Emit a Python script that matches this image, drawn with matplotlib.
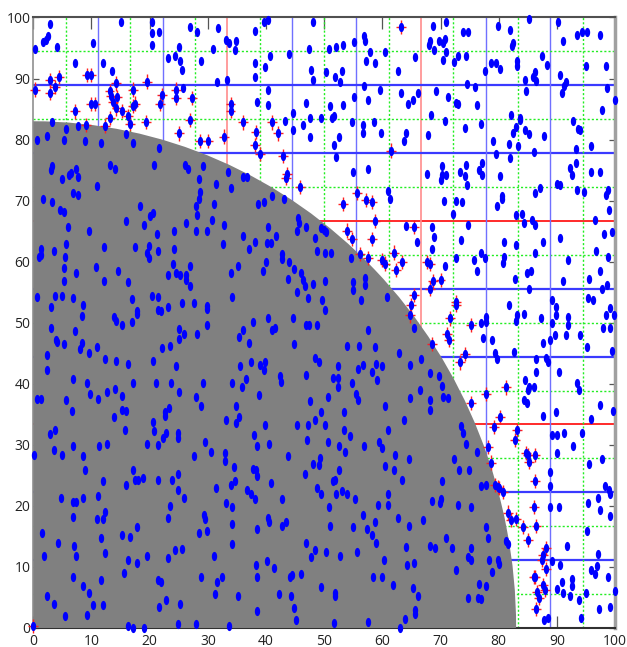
import numpy as np
import matplotlib
matplotlib.use('Agg')
from matplotlib import pyplot as plt
from matplotlib.path import Path
from matplotlib.patches import Wedge

plt.rcParams['font.family'] = ['Open Sans', 'DejaVu Sans']

# disc radius (grey quarter circle) and number of grid divisions
radius = 83
n_div = 18
tick_values = list(range(0, 101, 10))

# points drawn as plain blue dots
blue_pts = [
    # top left
    (0.3, 94.8), (1.7, 95.9), (2.2, 96.3), (2.6, 97.0), (2.9, 98.9), (4.0, 95.2), (7.2, 92.5), (10.3, 95.8),
    (15.0, 99.2), (11.9, 92.5), (13.5, 91.3), (3.2, 82.8), (20.4, 97.5), (20.4, 99.2), (20.4, 95.5), (21.6, 97.7),
    (23.1, 93.3), (24.4, 93.7), (25.2, 92.8), (25.5, 91.4), (25.1, 95.2), (25.7, 88.4), (27.0, 98.5), (28.2, 97.7),
    (28.8, 92.8),
    (0.7, 80.0), (2.3, 80.6), (5.6, 81.7), (5.3, 79.9), (7.6, 82.2), (8.9, 79.7), (11.6, 79.4), (15.9, 80.9),
    (17.2, 79.4), (20.8, 75.8), (21.6, 78.6), (26.1, 75.8), (26.6, 75.2), (29.2, 75.6), (28.5, 73.5), (3.3, 75.6),
    (3.1, 75.0), (4.9, 73.5), (6.1, 74.2), (6.5, 74.6), (7.7, 73.9), (7.3, 75.1), (13.2, 75.8), (14.0, 75.1),
    (10.9, 72.4), (6.9, 71.2), (7.7, 71.0), (1.6, 70.2), (3.2, 69.7), (4.6, 68.5), (18.3, 69.1), (28.6, 71.4),
    (28.5, 70.2), (27.9, 69.1),
    # middle left
    (5.3, 68.2), (6.0, 65.7), (9.5, 65.1), (16.0, 66.6), (19.0, 66.0), (20.0, 67.4), (20.6, 67.9), (21.3, 64.5),
    (24.2, 65.1), (26.2, 66.4), (28.1, 67.7), (27.9, 65.1), (29.8, 65.1), (1.4, 62.0), (0.9, 60.8), (1.3, 61.1),
    (3.6, 61.8), (5.7, 62.9), (5.4, 60.8), (5.3, 59.0), (5.3, 56.9), (7.3, 58.2), (10.7, 59.2), (12.1, 62.4),
    (12.1, 56.9), (14.6, 58.4), (16.3, 56.6), (17.4, 62.4), (19.5, 61.5), (19.9, 60.6), (19.9, 62.5), (21.5, 61.8),
    (24.2, 62.0), (24.1, 59.7), (23.1, 57.8), (24.6, 58.2), (25.2, 57.8), (26.2, 57.8), (26.2, 57.0), (27.0, 59.3),
    (27.0, 56.0), (0.6, 54.2), (3.0, 52.6), (3.8, 54.4), (5.0, 54.4), (6.8, 54.1), (8.6, 52.9), (8.4, 51.1),
    (3.0, 49.2), (7.2, 48.6), (3.9, 47.2), (4.1, 46.8), (5.2, 46.5), (2.4, 44.7), (2.4, 42.3), (8.0, 45.7),
    (8.3, 46.6), (9.6, 45.0), (10.9, 46.0), (12.4, 44.0), (14.2, 43.8), (16.2, 43.2), (13.9, 51.0), (14.3, 50.3),
    (15.2, 49.6), (16.9, 50.2), (16.9, 53.9), (17.8, 51.4), (17.9, 51.9), (20.4, 54.4), (21.4, 54.2), (21.5, 52.1),
    (22.0, 52.0), (23.2, 52.6), (25.6, 53.3), (27.7, 53.3), (29.9, 52.8), (29.8, 52.2), (29.9, 49.6), (25.0, 48.9),
    (25.9, 48.1), (25.0, 47.4), (28.2, 48.1), (23.5, 46.2), (22.1, 45.9), (20.5, 43.8), (24.5, 42.9), (6.9, 40.8),
    (9.3, 40.2), (9.7, 38.4), (11.2, 37.5), (12.6, 38.7), (14.1, 39.1), (15.2, 38.0), (17.2, 40.2), (21.1, 40.2),
    (23.6, 40.2), (25.0, 38.7), (29.1, 40.2), (27.9, 37.8), (28.8, 36.3), (0.7, 37.5), (1.4, 37.5), (5.6, 37.4),
    (6.6, 35.6), (13.9, 34.6), (15.3, 35.7), (15.9, 35.6), (20.6, 33.8), (22.7, 35.4), (23.4, 36.0), (22.6, 34.7),
    # bottom left
    (20.8, 32.2), (2.8, 31.8), (3.7, 32.5), (3.6, 29.2), (5.0, 28.3), (0.2, 28.3), (6.9, 29.8), (8.5, 28.1),
    (8.9, 25.9), (11.3, 29.8), (12.7, 30.1), (15.8, 32.5), (19.6, 30.1), (21.4, 29.9), (22.3, 31.1), (22.8, 32.0),
    (24.9, 32.0), (24.8, 31.1), (27.6, 28.1), (29.5, 30.4), (4.8, 21.3), (6.9, 20.7), (7.4, 20.7), (8.5, 21.3),
    (6.9, 18.2), (11.9, 24.1), (16.0, 23.5), (17.1, 25.9), (17.5, 24.3), (18.0, 24.3), (18.8, 24.6), (21.5, 24.3),
    (23.9, 24.3), (24.9, 25.3), (24.9, 22.6), (25.9, 21.3), (11.1, 21.6), (10.9, 17.9), (12.0, 17.9), (12.4, 19.0),
    (15.3, 15.2), (16.7, 14.9), (17.9, 16.5), (23.1, 18.0), (23.5, 20.0), (28.5, 15.5), (29.3, 18.5), (29.6, 17.9),
    (29.9, 15.9), (1.5, 15.6), (1.8, 11.8), (4.2, 14.0), (7.0, 13.4), (7.4, 11.8), (11.7, 14.7), (12.4, 12.2),
    (16.3, 11.2), (17.9, 10.7), (19.6, 11.8), (23.1, 11.4), (24.3, 12.8), (25.5, 13.0), (15.6, 9.0), (6.9, 8.4),
    (8.6, 6.8), (9.6, 5.8), (11.6, 7.9), (10.3, 3.8), (12.0, 3.8), (9.3, 2.1), (5.4, 1.9), (2.3, 5.2),
    (3.6, 4.0), (21.5, 7.9), (21.9, 7.5), (22.8, 4.6), (21.6, 3.4), (25.2, 4.0), (28.8, 8.3), (16.3, 0.3),
    (17.1, 0.0), (19.1, 0.0), (24.8, 0.7), (27.9, 0.7),
    # bottom centre
    (39.8, 33.3), (45.3, 33.3), (47.3, 33.3), (50.2, 33.3), (53.4, 32.5), (54.4, 31.4), (56.8, 29.8), (59.5, 30.4),
    (59.9, 29.4), (60.9, 32.5), (30.5, 28.9), (38.0, 31.6), (38.4, 29.8), (40.5, 30.1), (33.0, 28.6), (33.0, 27.4),
    (34.5, 26.4), (34.6, 24.1), (37.8, 26.1), (38.3, 25.8), (38.5, 24.9), (40.8, 23.7), (43.8, 28.1), (47.0, 30.8),
    (48.1, 26.8), (49.1, 26.7), (49.3, 27.8), (50.7, 30.4), (52.5, 29.8), (53.6, 28.9), (46.7, 25.3), (52.5, 25.9),
    (51.6, 24.0), (51.8, 24.3), (48.8, 22.9), (49.4, 21.9), (52.1, 21.9), (53.1, 22.5), (54.0, 21.9), (55.3, 21.2),
    (60.4, 26.5), (62.0, 25.9), (62.1, 28.3), (63.3, 24.3), (64.5, 27.7), (31.4, 22.9), (34.0, 23.4), (36.7, 22.6),
    (37.4, 21.9), (38.1, 21.2), (42.7, 21.2), (33.1, 20.4), (34.1, 19.8), (34.1, 17.0), (34.2, 13.8), (31.0, 11.8),
    (38.5, 16.2), (40.4, 18.0), (40.5, 17.3), (42.8, 16.7), (43.5, 17.4), (50.8, 19.8), (51.0, 16.7), (54.9, 16.5),
    (56.6, 18.5), (57.4, 16.2), (58.3, 15.2), (58.7, 17.3), (58.9, 14.0), (59.3, 20.1), (61.0, 20.1), (60.9, 21.9),
    (62.7, 18.0), (64.5, 16.7), (46.9, 14.0), (48.4, 12.8), (47.7, 11.6), (50.4, 12.5), (52.8, 11.8), (55.6, 12.4),
    (60.3, 11.2), (64.1, 13.2), (64.3, 10.3), (38.2, 10.3), (40.1, 10.9), (41.4, 9.8), (38.5, 8.3), (44.1, 8.3),
    (44.5, 8.7), (46.1, 8.8), (31.6, 7.6), (32.5, 8.3), (31.2, 5.6), (35.2, 5.2), (42.2, 5.6), (44.3, 5.2),
    (44.9, 3.2), (45.1, 1.3), (38.5, 2.8), (33.7, 0.3), (49.5, 6.7), (51.9, 5.8), (51.9, 5.2), (51.7, 0.8),
    (57.6, 1.0), (58.4, 8.3), (60.0, 8.3), (61.9, 7.0), (63.9, 1.4), (63.0, 0.0),
    # bottom right
    (73.5, 33.1), (73.9, 31.9), (74.3, 30.1), (76.2, 28.9), (72.4, 27.6), (73.1, 25.9), (74.9, 25.9), (70.2, 24.1),
    (76.9, 23.2), (77.9, 23.4), (68.6, 20.8), (70.0, 21.2), (69.9, 20.4), (73.0, 20.1), (75.2, 19.8), (67.0, 17.7),
    (77.9, 16.5), (78.2, 14.7), (71.0, 14.7), (68.2, 13.4), (69.0, 13.1), (71.9, 13.1), (75.3, 13.1), (74.7, 11.7),
    (75.3, 11.2), (78.4, 11.2), (79.8, 11.2), (80.1, 10.5), (78.9, 9.2), (72.7, 9.5), (65.4, 10.6), (65.3, 6.5),
    (66.1, 5.2), (65.6, 2.9), (65.6, 2.3), (76.7, 7.2), (77.9, 6.8), (76.5, 4.9), (76.9, 4.7), (74.7, 4.9),
    (81.6, 13.8), (81.3, 14.2),
    (89.1, 31.6), (90.1, 31.6), (91.2, 31.9), (94.3, 31.9), (92.7, 29.8), (90.0, 28.6), (97.8, 27.6), (95.5, 26.8),
    (88.9, 25.6), (88.9, 23.2), (88.9, 19.8), (90.4, 19.8), (95.4, 20.4), (97.1, 21.3), (97.5, 19.4), (98.2, 23.2),
    (98.9, 22.6), (99.2, 21.9), (99.1, 18.3), (95.2, 15.9), (91.7, 13.4), (97.1, 12.1), (89.1, 10.9), (90.5, 10.3),
    (90.0, 6.4), (91.1, 5.8), (90.8, 7.6), (92.6, 8.0), (92.6, 6.9), (92.3, 5.2), (93.8, 4.6), (95.0, 5.7),
    (95.9, 9.5), (96.5, 8.9), (96.9, 10.1), (98.8, 8.3), (100.0, 6.1), (97.3, 3.1), (99.1, 3.4), (94.2, 1.6),
    (87.8, 1.3), (88.5, 1.6),
    # middle right
    (72.2, 67.8), (74.7, 66.0), (68.6, 65.7), (68.9, 64.0), (65.9, 63.3), (68.6, 62.0), (73.6, 63.6), (82.9, 67.7),
    (84.0, 67.8), (84.3, 66.3), (85.7, 66.9), (86.3, 66.0), (96.5, 66.8), (98.9, 68.4), (98.1, 64.5), (99.5, 64.9),
    (80.9, 63.3), (83.0, 62.7), (87.6, 63.3), (90.6, 63.8), (76.9, 61.5), (77.6, 60.6), (75.7, 60.2), (72.6, 60.6),
    (70.7, 59.3), (76.2, 58.4), (81.0, 60.8), (80.8, 59.8), (86.2, 61.5), (92.0, 60.2), (96.8, 61.8), (98.8, 60.7),
    (84.9, 58.2), (85.6, 58.4), (82.8, 57.2), (85.2, 55.6), (91.1, 56.9), (95.6, 57.2), (97.5, 58.4), (97.7, 55.6),
    (98.6, 56.2), (65.4, 49.1), (77.8, 51.0), (77.8, 50.2), (76.9, 50.0), (77.3, 47.5), (78.9, 47.2), (79.3, 45.1),
    (79.7, 44.0), (81.7, 52.9), (83.1, 51.3), (82.9, 50.3), (84.3, 51.4), (87.3, 50.7), (89.1, 53.8), (89.9, 52.5),
    (89.8, 51.3), (89.1, 49.9), (89.6, 48.0), (91.5, 48.0), (91.9, 50.9), (92.0, 49.6), (93.9, 48.0), (95.4, 54.1),
    (96.2, 53.8), (99.1, 52.4), (99.8, 51.3), (98.4, 51.2), (98.0, 49.2), (99.1, 49.1), (95.1, 46.1), (99.4, 45.3),
    (87.7, 46.7), (88.8, 47.2), (82.6, 45.2), (86.4, 44.1), (88.2, 44.2), (88.5, 43.6), (90.4, 42.0), (93.5, 40.1),
    (93.8, 38.9), (84.6, 40.7), (85.2, 39.4), (85.0, 38.9), (86.1, 39.5), (86.5, 42.0), (84.3, 37.3), (84.8, 36.9),
    (87.7, 34.7), (89.9, 35.3), (95.8, 34.2), (97.4, 36.5), (99.7, 35.6),
    (66.7, 44.0), (68.2, 41.7), (69.8, 41.2), (70.2, 39.6), (70.5, 37.9), (71.3, 37.6), (66.4, 39.0), (68.2, 37.4),
    (68.2, 35.7),
    # centre
    (30.8, 66.9), (32.8, 66.0), (36.1, 64.2), (38.1, 63.3), (37.1, 62.0), (40.4, 65.7), (40.1, 63.0), (40.8, 63.0),
    (41.8, 64.2), (32.6, 62.9), (42.7, 61.3), (42.7, 60.4), (40.0, 60.0), (39.5, 58.4), (35.2, 59.3), (33.9, 58.2),
    (44.0, 60.0), (44.9, 58.8), (43.7, 57.2), (45.5, 67.1), (45.6, 66.4), (45.3, 65.1), (46.8, 65.7), (46.0, 58.2),
    (46.4, 57.0), (46.7, 56.0), (48.0, 56.3), (47.3, 54.1), (45.3, 55.1), (48.5, 63.8), (48.8, 61.8), (49.5, 65.5),
    (49.9, 65.2), (50.3, 64.9), (50.1, 61.5), (51.1, 61.5), (50.1, 56.8), (49.7, 53.7), (50.1, 52.1), (34.2, 54.2),
    (40.4, 50.7), (37.7, 50.2), (36.0, 48.8), (35.3, 47.7), (37.1, 46.7), (41.1, 48.8), (41.5, 49.1), (44.7, 50.7),
    (46.8, 49.6), (47.4, 49.6), (48.8, 49.6), (44.8, 46.5), (48.4, 44.2), (49.1, 43.6), (37.5, 43.6), (35.6, 42.9),
    (38.9, 43.1), (39.6, 42.3), (39.9, 43.6), (42.4, 41.2), (42.6, 40.3), (34.1, 40.2), (36.5, 40.8), (35.8, 39.5),
    (38.8, 38.2), (46.9, 41.4), (47.6, 37.1), (49.4, 35.4), (34.8, 36.3), (35.4, 34.6), (33.1, 34.1), (34.8, 33.6),
    (48.5, 34.1), (52.3, 42.9), (51.6, 40.9), (52.3, 40.9), (52.4, 39.5), (50.7, 37.9), (53.4, 35.3), (54.8, 40.2),
    (55.8, 42.5), (56.7, 43.0), (58.3, 42.0), (58.9, 43.2), (59.9, 42.9), (59.1, 40.6), (53.9, 46.2), (56.0, 46.2),
    (58.8, 46.0), (62.9, 45.0), (57.6, 48.8), (56.4, 53.8), (54.9, 56.7), (54.9, 55.4), (57.1, 57.4), (57.1, 56.2),
    (60.8, 54.2), (54.6, 60.6), (64.8, 43.1), (64.7, 37.6), (60.4, 36.3), (63.8, 34.1), (55.8, 37.3), (55.5, 38.4),
    (64.1, 65.8),
    # top centre
    (31.8, 98.2), (33.2, 96.3), (33.7, 95.8), (34.7, 94.7), (34.9, 96.2), (30.9, 94.8), (38.1, 97.8), (39.7, 99.3),
    (40.3, 99.6), (40.7, 93.7), (39.9, 91.9), (38.1, 92.6), (38.1, 90.3), (43.9, 94.0), (48.0, 99.2), (47.4, 94.8),
    (31.5, 89.5), (33.3, 89.7), (38.4, 86.2), (40.4, 88.2), (40.3, 85.6), (43.2, 83.0), (44.7, 84.3), (44.7, 81.6),
    (46.8, 86.0), (46.3, 82.4), (47.5, 83.5), (47.5, 80.4), (47.7, 91.4), (48.0, 89.8), (49.4, 83.5), (51.0, 85.5),
    (50.3, 91.0), (50.8, 94.8), (51.8, 90.3), (52.1, 95.2), (53.2, 95.5), (52.7, 89.5), (53.0, 91.3), (53.3, 85.7),
    (51.4, 83.5), (51.7, 83.8), (52.6, 80.5), (51.7, 79.1), (52.1, 77.2), (55.1, 95.9), (56.9, 96.9), (57.0, 96.2),
    (57.8, 94.4), (57.2, 92.8), (58.7, 92.5), (55.1, 87.0), (56.9, 88.8), (57.5, 86.5), (59.6, 88.2), (60.4, 94.4),
    (62.7, 91.3), (63.2, 87.6), (64.4, 85.8), (65.3, 86.5), (54.7, 82.8), (56.6, 82.4), (56.7, 81.0), (58.5, 82.9),
    (59.7, 81.0), (64.1, 81.0), (63.7, 79.7), (57.5, 75.1), (54.9, 74.7), (60.9, 71.6), (61.3, 70.2),
    (33.4, 74.7), (33.9, 72.0), (36.1, 73.9), (36.7, 73.9), (31.4, 72.8), (31.1, 69.5), (38.7, 69.4), (39.7, 69.8),
    (41.0, 70.8), (43.1, 70.2),
    # top right
    (68.7, 98.6), (70.9, 99.2), (68.2, 96.2), (68.0, 95.5), (68.8, 94.7), (69.7, 96.2), (70.4, 95.8), (70.8, 96.5),
    (71.0, 94.4), (70.4, 93.0), (65.7, 93.6), (73.9, 97.7), (74.8, 97.7), (72.3, 92.7), (73.0, 93.7), (74.3, 93.7),
    (79.9, 98.6), (81.9, 97.9), (82.5, 95.8), (82.3, 95.3), (85.2, 99.7), (90.2, 99.3), (91.1, 96.2), (93.4, 97.1),
    (94.3, 97.7), (95.2, 97.7), (97.5, 97.1), (77.6, 91.3), (78.6, 92.5), (79.5, 92.6), (80.2, 91.5), (83.2, 92.8),
    (83.2, 92.0), (87.5, 93.7), (88.3, 92.2), (86.2, 91.1), (84.5, 89.8), (85.9, 90.2), (86.4, 89.6), (84.7, 88.0),
    (90.5, 90.6), (91.5, 89.5), (91.2, 88.7), (90.8, 87.6), (95.0, 92.0), (98.5, 92.1), (98.6, 88.4), (100.0, 86.5),
    (97.8, 84.9), (74.6, 89.1), (76.0, 88.6), (69.2, 87.9), (66.2, 87.7), (71.3, 86.9), (72.7, 86.0), (73.0, 85.8),
    (76.2, 85.7), (68.4, 84.1), (70.7, 83.0), (67.9, 80.7), (74.2, 81.9), (77.0, 82.6), (82.2, 84.0), (83.6, 83.6),
    (83.6, 83.2), (83.0, 82.1), (82.4, 81.0), (84.5, 81.5), (85.2, 80.9), (87.8, 80.6), (83.3, 78.9), (81.7, 79.3),
    (79.0, 79.7), (79.6, 77.7), (82.0, 76.9), (86.1, 77.9), (92.7, 83.0), (93.7, 81.8), (94.0, 81.5), (95.9, 78.9),
    (93.3, 78.4), (93.3, 76.2), (92.2, 75.3), (92.6, 74.2), (95.9, 74.7), (97.4, 74.7), (90.0, 72.8), (90.5, 72.5),
    (93.4, 71.7), (94.6, 71.4), (98.4, 70.9), (98.8, 71.8), (86.2, 71.2), (87.1, 72.1), (80.2, 74.1), (79.7, 69.1),
    (80.5, 70.7), (80.6, 70.2), (70.6, 70.0), (72.7, 70.0), (73.7, 69.7), (67.7, 74.4), (70.2, 75.6), (70.3, 74.2),
    (70.0, 73.4), (71.0, 74.2), (73.3, 74.7), (74.3, 75.8), (74.2, 74.0), (74.5, 72.5), (76.6, 75.0), (77.2, 76.2),
    (77.2, 74.2),
]

# points that also carry a red cross (near the disc edge)
marked_pts = [
    (0.3, 88.2), (2.9, 89.7), (2.9, 87.6), (3.7, 88.6), (4.4, 90.3), (9.3, 90.6), (9.9, 90.6), (14.2, 89.2),
    (13.1, 88.0), (13.3, 87.1), (14.4, 87.0), (13.7, 86.2), (14.3, 85.1), (15.2, 84.7), (13.2, 83.5), (12.4, 82.2),
    (9.9, 85.8), (10.6, 85.8), (7.2, 84.6), (9.0, 82.4), (16.3, 83.8), (16.6, 82.6), (17.2, 85.5), (17.5, 85.9),
    (17.1, 88.2), (19.6, 89.5), (22.1, 87.3), (21.8, 85.8), (19.4, 82.9), (24.5, 88.2), (24.5, 86.8), (26.9, 83.2),
    (25.1, 81.0), (27.2, 86.8), (28.6, 79.8), (30.1, 79.8),
    (0.0, 0.3),
    (79.2, 32.9), (83.1, 32.4), (82.8, 30.8), (84.7, 28.7), (85.1, 28.3), (86.2, 28.3), (85.2, 27.2), (78.6, 27.1),
    (78.1, 29.6), (86.3, 24.1), (79.3, 23.4), (79.8, 23.1), (80.1, 22.9), (80.8, 22.3), (86.0, 19.8), (81.6, 18.9),
    (82.2, 17.7), (82.9, 17.8), (84.2, 16.5), (86.5, 16.7), (85.1, 14.4), (88.2, 13.1), (87.7, 12.0), (87.5, 11.2),
    (88.1, 9.6), (86.0, 8.3), (86.3, 8.4), (87.6, 7.0), (87.9, 6.2), (86.6, 5.9), (86.9, 4.9), (86.4, 3.1),
    (65.4, 65.7), (67.6, 60.0), (68.2, 59.6), (68.7, 56.8), (70.0, 57.0), (68.2, 55.6), (65.5, 54.5), (64.9, 52.9),
    (64.7, 51.2), (72.7, 53.4), (72.6, 52.9), (71.6, 50.7), (71.1, 48.1), (71.4, 47.2), (68.6, 46.5), (75.3, 49.6),
    (74.2, 44.9), (73.3, 43.5), (81.3, 39.4), (77.8, 38.3), (75.2, 36.9), (80.2, 34.5),
    (58.7, 66.7), (54.0, 65.1), (54.8, 63.7), (58.3, 63.7), (56.2, 61.3), (57.6, 60.6), (60.0, 60.3), (60.4, 59.7),
    (62.0, 61.5), (62.3, 58.6), (63.3, 60.0),
    (33.9, 85.8), (33.9, 84.7), (36.1, 82.8), (38.2, 81.3), (38.1, 79.1), (38.9, 77.6), (41.1, 82.8), (42.0, 81.0),
    (43.0, 77.3), (43.6, 74.4), (43.4, 73.7), (45.8, 72.2), (61.5, 78.2), (55.7, 71.3), (57.2, 70.1), (58.3, 69.8),
    (53.2, 69.4), (63.2, 98.5), (32.8, 80.5),
]

fig = plt.figure(figsize=(6.27, 6.47), dpi=100)
ax = fig.add_axes([0.0531, 0.0294, 0.9278, 0.9436])
ax.set_xlim(0, 100)
ax.set_ylim(0, 100)

# grid of sub-divisions: red every 6th, blue every 2nd, green dotted otherwise
for k in range(1, n_div):
    v = k * 100 / n_div
    if k % 6 == 0:
        ax.axhline(v, color='#ff2a2a', lw=1.4, zorder=1)
        ax.axvline(v, color='#ff8c8c', lw=1.2, zorder=1)
    elif k % 2 == 0:
        ax.axhline(v, color='#3a3aff', lw=1.6, zorder=1)
        ax.axvline(v, color='#7070ff', lw=1.0, zorder=1)
    else:
        ax.axhline(v, color='#22ee22', lw=1.0, ls=(0, (1.5, 1.5)), zorder=1)
        ax.axvline(v, color='#22ee22', lw=1.0, ls=(0, (1.5, 1.5)), zorder=1)

ax.add_patch(Wedge((0, 0), radius, 0, 90, facecolor='#808080', edgecolor='none', zorder=2))

t = np.linspace(0, 2 * np.pi, 40)
ellipse = Path(np.column_stack([0.58 * np.cos(t), np.sin(t)]), closed=True)
cross = Path([(0, -1), (0, 1), (-0.7, 0), (0.7, 0)],
             [Path.MOVETO, Path.LINETO, Path.MOVETO, Path.LINETO])

mx, my = zip(*marked_pts)
ax.scatter(mx, my, marker=cross, s=105, facecolors='none', edgecolors='#ff2020',
           linewidths=1.0, zorder=3, clip_on=False)

all_pts = blue_pts + marked_pts
bx, by = zip(*all_pts)
ax.scatter(bx, by, marker=ellipse, s=44, c='#0000ff', linewidths=0, zorder=4, clip_on=False)

ax.set_xticks(tick_values)
ax.set_yticks(tick_values)
ax.set_axisbelow(True)
ax.tick_params(axis='x', direction='in', length=8.5, width=0.9, color='#555555',
               top=True, bottom=True, labelsize=10, pad=4, labelcolor='#222222')
ax.tick_params(axis='y', direction='in', length=4.5, width=0.9, color='#555555',
               left=True, right=True, labelsize=10, pad=2, labelcolor='#222222')

for side, col, lw in [('top', '#505050', 1.5), ('right', '#a0a0a0', 2.5),
                      ('left', '#909090', 1.2), ('bottom', '#303030', 1.5)]:
    ax.spines[side].set_color(col)
    ax.spines[side].set_linewidth(lw)
    ax.spines[side].set_zorder(1.5)

fig.savefig('out.png', dpi=100)
